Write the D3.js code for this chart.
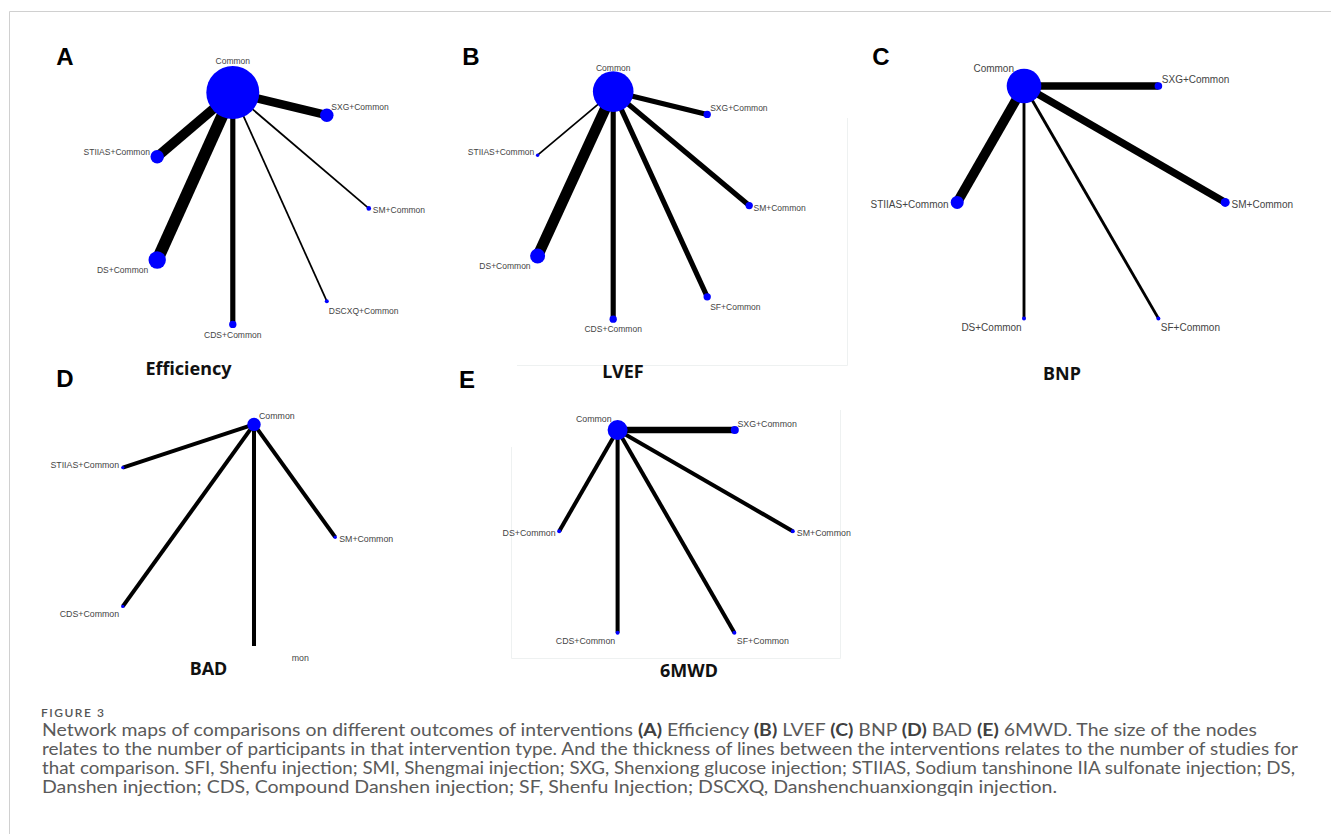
<!DOCTYPE html>
<html><head><meta charset="utf-8">
<script src="https://cdn.jsdelivr.net/npm/d3@7"></script>
<style>body{margin:0;background:#fff}</style>
</head><body>
<svg id="chart" width="1331" height="834"></svg>
<script>
// ---------------- DATA ----------------
const panelLetters = ["A", "B", "C", "D", "E"];
const panelTitles = ["Efficiency", "LVEF", "BNP", "BAD", "6MWD"];

// Panel A – Efficiency (first node is the hub "Common")
const nodesA = ["Common", "SXG+Common", "STIIAS+Common", "DS+Common", "CDS+Common", "DSCXQ+Common", "SM+Common"];
const layoutXA = [48.2, 71.7, 29.3, 29.3, 48.2, 71.7, 82.2];
const layoutYA = [13.1, 18.8, 29.2, 55.0, 71.1, 65.3, 42.1];
const participantsA = [780, 50, 50, 84, 15, 4.4, 5.9];
const studiesA = [0, 7, 8, 10, 4, 1, 1];

// Panel B – LVEF
const nodesB = ["Common", "SXG+Common", "STIIAS+Common", "DS+Common", "CDS+Common", "SF+Common", "SM+Common"];
const layoutXB = [43.3, 66.8, 24.4, 24.4, 43.3, 66.8, 77.3];
const layoutYB = [12.9, 18.6, 28.8, 54.0, 69.8, 64.2, 41.4];
const participantsB = [458, 15, 3.2, 62, 15, 15, 15];
const studiesB = [0, 4, 1, 9, 4, 4, 4];

// Panel C – BNP
const nodesC = ["Common", "SXG+Common", "STIIAS+Common", "SM+Common", "DS+Common", "SF+Common"];
const layoutXC = [46.0, 79.6, 29.3, 96.3, 46.0, 79.6];
const layoutYC = [11.5, 11.5, 40.6, 40.6, 69.6, 69.6];
const participantsC = [333, 16, 47, 22.5, 4.4, 4.4];
const studiesC = [0, 6, 8, 6, 2, 2];

// Panel D – BAD (last entry is a clipped node whose label reads "mon")
const nodesD = ["Common", "STIIAS+Common", "SM+Common", "CDS+Common", "mon"];
const layoutXD = [53.5, 20.7, 73.8, 20.7, 53.5];
const layoutYD = [8.6, 19.4, 36.8, 54.1, 64.0];
const participantsD = [50, 3.2, 3.2, 3.2, 0];
const studiesD = [0, 3, 3, 3, 3];

// Panel E – 6MWD
const nodesE = ["Common", "SXG+Common", "DS+Common", "SM+Common", "CDS+Common", "SF+Common"];
const layoutXE = [44.4, 73.7, 29.8, 88.2, 44.4, 73.6];
const layoutYE = [10.0, 10.0, 35.3, 35.3, 60.7, 60.7];
const participantsE = [111, 18, 4.4, 4.4, 4.4, 4.4];
const studiesE = [0, 5, 3, 3, 3, 3];

const captionHead = "FIGURE 3";
const captionLines = [
  [["Network maps of comparisons on different outcomes of interventions ", 0], ["(A)", 1], [" Efficiency ", 0], ["(B)", 1], [" LVEF ", 0], ["(C)", 1], [" BNP ", 0], ["(D)", 1], [" BAD ", 0], ["(E)", 1], [" 6MWD. The size of the nodes", 0]],
  [["relates to the number of participants in that intervention type. And the thickness of lines between the interventions relates to the number of studies for", 0]],
  [["that comparison. SFI, Shenfu injection; SMI, Shengmai injection; SXG, Shenxiong glucose injection; STIIAS, Sodium tanshinone IIA sulfonate injection; DS,", 0]],
  [["Danshen injection; CDS, Compound Danshen injection; SF, Shenfu Injection; DSCXQ, Danshenchuanxiongqin injection.", 0]]
];

// ---------------- LAYOUT / STYLE ----------------
const panelData = [
  {names: nodesA, lx: layoutXA, ly: layoutYA, n: participantsA, s: studiesA},
  {names: nodesB, lx: layoutXB, ly: layoutYB, n: participantsB, s: studiesB},
  {names: nodesC, lx: layoutXC, ly: layoutYC, n: participantsC, s: studiesC},
  {names: nodesD, lx: layoutXD, ly: layoutYD, n: participantsD, s: studiesD},
  {names: nodesE, lx: layoutXE, ly: layoutYE, n: participantsE, s: studiesE}
];
const panelFrames = [
  {x0: 40, y0: 40, font: 8.5, letter: [65, 65], title: [188.5, 375]},
  {x0: 440, y0: 40, font: 8.5, letter: [471, 65], title: [623, 378]},
  {x0: 840, y0: 40, font: 10, letter: [881, 64.5], title: [1062, 380]},
  {x0: 40, y0: 390, font: 8.8, letter: [65, 387], title: [208.5, 675]},
  {x0: 440, y0: 390, font: 8.8, letter: [467, 388], title: [689, 677]}
];
// label placement: [anchor, dx, dy] relative to node centre ("top" = above node, centred)
const labelPlace = [
  [["top", 0, -1.5], ["start", 4.5, -5], ["end", -7.3, -1.7], ["end", -9, 13.3], ["middle", 0, 13.4], ["start", 2, 12.3], ["start", 4, 5]],
  [["top", 0, -0.7], ["start", 3, -3], ["end", -3.4, -0.3], ["end", -7, 12.7], ["middle", 0, 13], ["start", 3, 13], ["start", 4.3, 5]],
  [["end", -10, -14], ["start", 3.4, -3.3], ["end", -8.6, 5.4], ["start", 6.4, 5.4], ["end", -2.3, 12.7], ["start", 2.4, 12.7]],
  [["start", 5, -5.6], ["end", -3.7, 0.3], ["start", 4, 5], ["end", -3.7, 10.4], ["start", 37.7, 14.7]],
  [["end", -6, -8], ["start", 2.6, -3.3], ["end", -3.6, 5], ["start", 4, 5], ["end", -2.4, 11], ["start", 2.4, 11]]
];

const svg = d3.select("#chart");
svg.append("rect").attr("width", 1331).attr("height", 834).attr("fill", "#fff");

// outer frame (top and left rules)
svg.append("line").attr("x1", 9.5).attr("x2", 1331).attr("y1", 11.5).attr("y2", 11.5).attr("stroke", "#d0d0d0").attr("stroke-width", 1);
svg.append("line").attr("x1", 9.5).attr("x2", 9.5).attr("y1", 11.5).attr("y2", 834).attr("stroke", "#d0d0d0").attr("stroke-width", 1);

// faint scanned-image borders
const faint = svg.append("g").attr("stroke", "#eef1f1").attr("stroke-width", 1).attr("fill", "none");
faint.append("path").attr("d", "M847.5,118V365.5H517");
faint.append("path").attr("d", "M511.5,447V658.5H840.5V410");

const rScale = d3.scaleSqrt().domain([0, 1000]).range([0, 30]);
const wScale = d3.scaleLinear().domain([0, 10]).range([0.6, 12]);

panelData.forEach((pd, pi) => {
  const fr = panelFrames[pi];
  const x = d3.scaleLinear().domain([0, 100]).range([fr.x0, fr.x0 + 400]);
  const y = d3.scaleLinear().domain([0, 100]).range([fr.y0, fr.y0 + 400]);
  const nodes = pd.names.map((name, i) => ({name, x: x(pd.lx[i]), y: y(pd.ly[i]), r: rScale(pd.n[i]), w: pd.s[i], place: labelPlace[pi][i]}));
  const hub = nodes[0];
  const g = svg.append("g");

  g.selectAll("line.edge").data(nodes.slice(1).filter(d => d.w > 0)).join("line")
    .attr("class", "edge")
    .attr("x1", hub.x).attr("y1", hub.y).attr("x2", d => d.x).attr("y2", d => d.y)
    .attr("stroke", "#000").attr("stroke-width", d => wScale(d.w));

  g.selectAll("circle").data(nodes.filter(d => d.r > 0)).join("circle")
    .attr("cx", d => d.x).attr("cy", d => d.y).attr("r", d => d.r)
    .attr("fill", "#0000ff");

  g.selectAll("text.lab").data(nodes).join("text")
    .attr("class", "lab")
    .attr("x", d => d.x + d.place[1])
    .attr("y", d => d.place[0] === "top" ? d.y - d.r + d.place[2] : d.y + d.place[2])
    .attr("text-anchor", d => d.place[0] === "top" ? "middle" : d.place[0])
    .attr("font-family", "Liberation Sans, Arial, sans-serif")
    .attr("font-size", fr.font)
    .attr("fill", "#444")
    .text(d => d.name);

  svg.append("text").attr("x", fr.letter[0]).attr("y", fr.letter[1])
    .attr("text-anchor", "middle").attr("font-family", "Liberation Sans, Arial, sans-serif")
    .attr("font-weight", "bold").attr("font-size", 24).attr("fill", "#000")
    .text(panelLetters[pi]);

  svg.append("text").attr("x", fr.title[0]).attr("y", fr.title[1])
    .attr("text-anchor", "middle").attr("font-family", "Noto Sans, sans-serif")
    .attr("font-weight", "bold").attr("font-size", 18).attr("fill", "#111")
    .text(panelTitles[pi]);
});

// caption
svg.append("text").attr("x", 41).attr("y", 717)
  .attr("font-family", "Lato, sans-serif").attr("font-size", 12).attr("letter-spacing", 1.5)
  .attr("font-weight", 600).attr("fill", "#555").text(captionHead);

const lineWidths = [1215, 1256, 1253, 1015];
captionLines.forEach((segs, li) => {
  const t = svg.append("text").attr("x", 42).attr("y", 736 + li * 19)
    .attr("font-family", "Lato, sans-serif").attr("font-size", 16.5).attr("fill", "#5a5a5a")
    .attr("textLength", lineWidths[li]).attr("lengthAdjust", "spacingAndGlyphs");
  segs.forEach(([s, b]) => {
    t.append("tspan").attr("font-weight", b ? "bold" : "normal").attr("fill", b ? "#404040" : "#5a5a5a").text(s);
  });
});
</script>
</body></html>
